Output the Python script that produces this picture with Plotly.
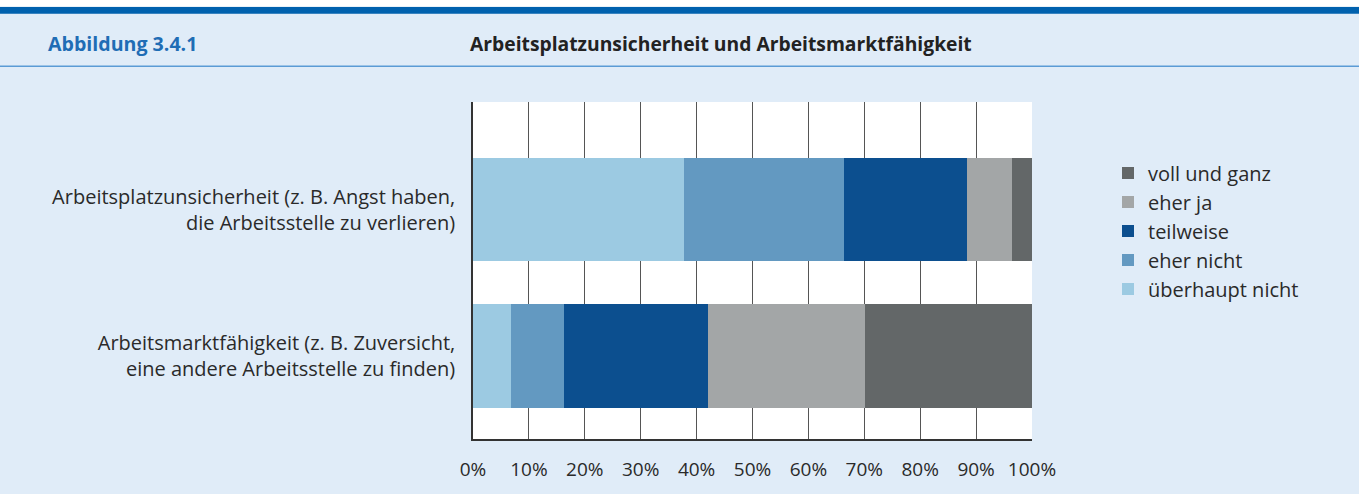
import plotly.graph_objects as go

# categories (top to bottom in the picture)
categories = [
    "Arbeitsplatzunsicherheit (z. B. Angst haben,<br>die Arbeitsstelle zu verlieren)",
    "Arbeitsmarktfähigkeit (z. B. Zuversicht,<br>eine andere Arbeitsstelle zu finden)",
]

# answer levels, left to right in the bars
levels = ["überhaupt nicht", "eher nicht", "teilweise", "eher ja", "voll und ganz"]
colors = ["#9ccae2", "#6399c1", "#0c4f8f", "#a3a6a7", "#636768"]

# share in percent, per level: [Arbeitsplatzunsicherheit, Arbeitsmarktfähigkeit]
ueberhaupt_nicht = [37.7, 6.8]
eher_nicht = [28.7, 9.5]
teilweise = [22.0, 25.7]
eher_ja = [8.0, 28.1]
voll_und_ganz = [3.6, 29.9]
values = [ueberhaupt_nicht, eher_nicht, teilweise, eher_ja, voll_und_ganz]

x_ticks = list(range(0, 101, 10))
x_ticklabels = [f"{t}%" for t in x_ticks]

W, H = 1359, 494
ml, mr, mt, mb = 473, 327, 102, 52
pw, ph = W - ml - mr, H - mt - mb

bg = "#e0ecf8"
font = "Open Sans, Noto Sans, sans-serif"
txt = "#2a2a2a"

fig = go.Figure()
for name, vals, col in zip(levels, values, colors):
    fig.add_trace(go.Bar(
        y=categories, x=vals, name=name, orientation="h",
        marker=dict(color=col, line=dict(width=0)),
        width=0.71,
    ))


def py(p):
    # pixel row -> paper y
    return (H - mb - p) / ph


x0, x1 = -ml / pw, (W - ml) / pw
shapes = [
    dict(type="rect", xref="paper", yref="paper", x0=x0, x1=x1,
         y0=py(13), y1=py(6), fillcolor="#0061ae", line=dict(width=0),
         layer="below"),
    dict(type="rect", xref="paper", yref="paper", x0=x0, x1=x1,
         y0=py(6), y1=py(-2), fillcolor="white", line=dict(width=0),
         layer="below"),
    dict(type="line", xref="paper", yref="paper", x0=x0, x1=x1,
         y0=py(66), y1=py(66), line=dict(color="#5b9bd5", width=1.5)),
]

annotations = [
    dict(text="<b>Abbildung 3.4.1</b>", xref="paper", yref="paper",
         x=(46 - ml) / pw, y=py(43), xanchor="left", yanchor="middle",
         showarrow=False, font=dict(family=font, size=19.6, color="#1f6db5")),
    dict(text="<b>Arbeitsplatzunsicherheit und Arbeitsmarktfähigkeit</b>",
         xref="paper", yref="paper", x=(721 - ml) / pw, y=py(43),
         xanchor="center", yanchor="middle", showarrow=False,
         font=dict(family=font, size=19.3, color="#222222")),
]

fig.update_layout(
    barmode="stack",
    width=W, height=H,
    margin=dict(l=ml, r=mr, t=mt, b=mb, pad=0),
    paper_bgcolor=bg,
    plot_bgcolor="white",
    font=dict(family=font, size=19, color=txt),
    shapes=shapes,
    annotations=annotations,
    legend=dict(
        x=(1108 - ml) / pw, y=py(154), xanchor="left", yanchor="top",
        traceorder="reversed", bgcolor="rgba(0,0,0,0)",
        font=dict(family=font, size=20, color=txt),
        tracegroupgap=0, itemwidth=30,
    ),
    showlegend=True,
    bargap=0,
)

fig.update_xaxes(
    range=[0, 100], tickvals=x_ticks, ticktext=x_ticklabels,
    showgrid=True, gridcolor="#555555", gridwidth=1,
    showline=True, linecolor="#333333", linewidth=1.5,
    ticks="", ticklabelstandoff=12, zeroline=False, fixedrange=True,
    tickfont=dict(size=19),
)
fig.update_yaxes(
    categoryorder="array", categoryarray=categories[::-1],
    range=[-0.57, 1.736],
    showgrid=False, showline=True, linecolor="#333333", linewidth=1.5,
    ticks="", ticklabelstandoff=12, fixedrange=True,
    tickfont=dict(size=20),
)

fig.write_html(
    "out.html",
    config={"displayModeBar": False},
    post_script="document.body.style.margin='0';document.body.style.overflow='hidden';",
)
